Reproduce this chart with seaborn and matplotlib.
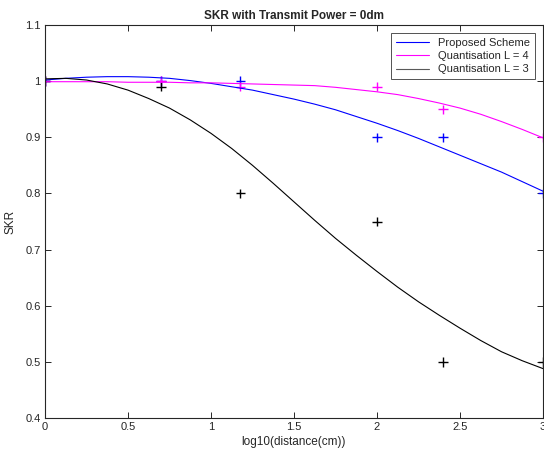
import pandas as pd
import matplotlib
matplotlib.use("Agg")
import matplotlib.pyplot as plt
import seaborn as sns

# --- data ---
curve_x = [0, 0.125, 0.25, 0.375, 0.5, 0.625, 0.75, 0.875, 1.0, 1.125, 1.25, 1.375, 1.5,
           1.625, 1.75, 1.875, 2.0, 2.125, 2.25, 2.375, 2.5, 2.625, 2.75, 2.875, 3.0]
proposed_curve = [1.002, 1.005, 1.007, 1.008, 1.008, 1.007, 1.005, 1.001, 0.996, 0.990, 0.984,
                  0.976, 0.968, 0.959, 0.949, 0.937, 0.925, 0.912, 0.898, 0.883, 0.868, 0.853,
                  0.838, 0.821, 0.804]
l4_curve = [0.999, 0.999, 0.999, 0.999, 0.998, 0.998, 0.998, 0.997, 0.997, 0.996, 0.995, 0.994,
            0.993, 0.992, 0.989, 0.985, 0.981, 0.976, 0.969, 0.961, 0.952, 0.941, 0.928, 0.914,
            0.899]
l3_curve = [1.004, 1.005, 1.002, 0.995, 0.984, 0.969, 0.952, 0.931, 0.907, 0.880, 0.850, 0.818,
            0.785, 0.752, 0.720, 0.690, 0.661, 0.633, 0.607, 0.583, 0.560, 0.538, 0.518, 0.502,
            0.488]

pts_x = [0, 0.699, 1.176, 2.0, 2.398, 3.0]
proposed_pts = [1.0, 1.0, 1.0, 0.9, 0.9, 0.8]
l4_pts = [1.0, 1.0, 0.99, 0.99, 0.95, 0.9]
l3_pts = [1.0, 0.99, 0.8, 0.75, 0.5, 0.5]

labels = ["Proposed Scheme", "Quantisation L = 4", "Quantisation L = 3"]
colors = ["#0000ff", "#ff00ff", "#000000"]

n = len(curve_x)
curves = pd.DataFrame({
    "x": curve_x * 3,
    "skr": proposed_curve + l4_curve + l3_curve,
    "series": [labels[0]] * n + [labels[1]] * n + [labels[2]] * n,
})
m = len(pts_x)
points = pd.DataFrame({
    "x": pts_x * 3,
    "skr": proposed_pts + l4_pts + l3_pts,
    "series": [labels[0]] * m + [labels[1]] * m + [labels[2]] * m,
})
pal = dict(zip(labels, colors))

sns.set_style("white")
plt.rcParams["font.family"] = ["Liberation Sans", "DejaVu Sans"]

fig = plt.figure(figsize=(5.44, 4.55), dpi=100)
ax = fig.add_axes([45 / 544, 37 / 455, 498 / 544, 393 / 455])

sns.lineplot(data=curves, x="x", y="skr", hue="series", palette=pal,
             linewidth=0.8, ax=ax, legend=True)
sns.scatterplot(data=points, x="x", y="skr", hue="series", palette=pal,
                marker="+", s=45, linewidth=1.0, ax=ax, legend=False)

ax.set_xlim(0, 3)
ax.set_ylim(0.4, 1.1)
ax.set_xticks([0, 0.5, 1, 1.5, 2, 2.5, 3])
ax.set_xticklabels(["0", "0.5", "1", "1.5", "2", "2.5", "3"])
ax.set_yticks([0.4, 0.5, 0.6, 0.7, 0.8, 0.9, 1.0, 1.1])
ax.set_yticklabels(["0.4", "0.5", "0.6", "0.7", "0.8", "0.9", "1", "1.1"])
ax.tick_params(direction="in", length=4, width=0.7, color="0.15",
               labelsize=8, labelcolor="0.15", top=True, right=True,
               bottom=True, left=True, pad=3)
for s in ax.spines.values():
    s.set_color("0.15")
    s.set_linewidth(0.8)

ax.set_xlabel("log10(distance(cm))", fontsize=8.5, color="0.15", labelpad=3)
ax.set_ylabel("SKR", fontsize=8.5, color="0.15", labelpad=6)
ax.set_title("SKR with Transmit Power = 0dm", fontsize=8.5, fontweight="bold", pad=4)

leg = ax.legend(loc="upper right", fontsize=8, frameon=True, fancybox=False,
                edgecolor="0.15", handlelength=3.0, borderpad=0.45,
                labelspacing=0.3, borderaxespad=0.7)
leg.get_frame().set_linewidth(0.7)
leg.get_lines()[2].set_color("0.35")

fig.savefig("out.png", dpi=100)
